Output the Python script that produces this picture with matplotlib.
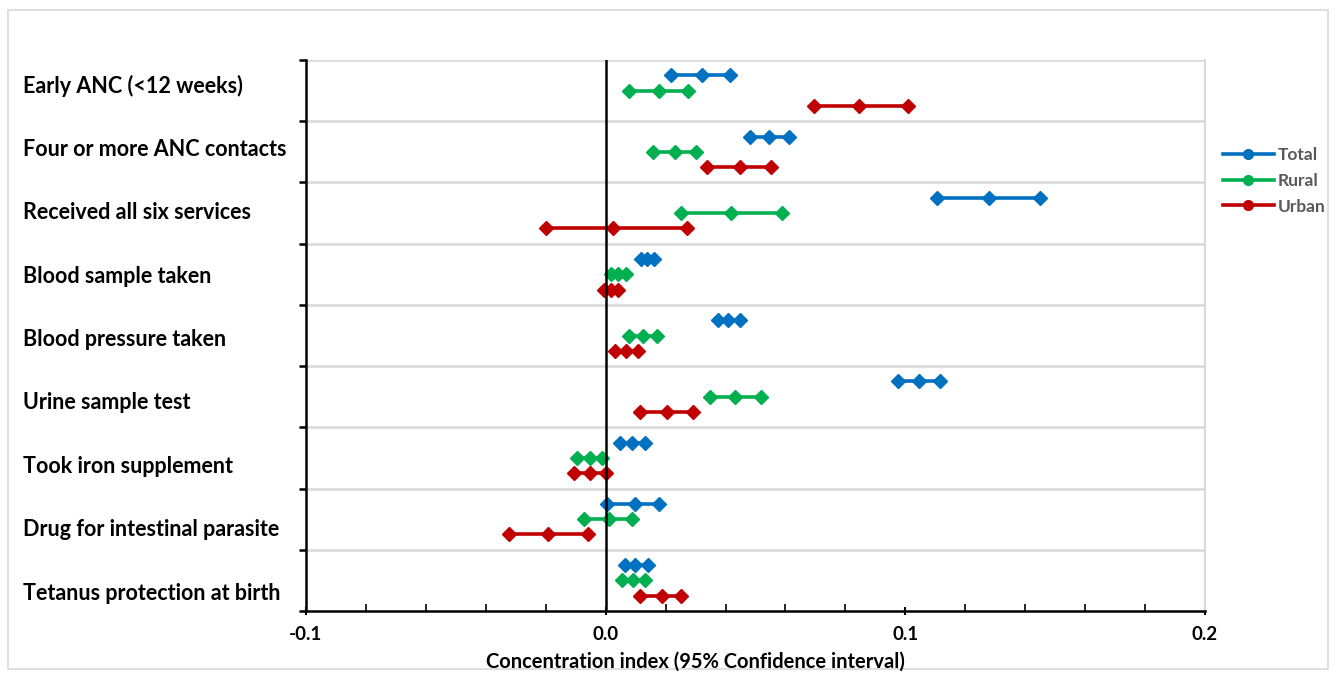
import matplotlib
matplotlib.use("Agg")
import matplotlib.pyplot as plt
from matplotlib.patches import Rectangle
from matplotlib.ticker import MultipleLocator, FixedLocator

categories = ["Early ANC (<12 weeks)", "Four or more ANC contacts", "Received all six services",
              "Blood sample taken", "Blood pressure taken", "Urine sample test",
              "Took iron supplement", "Drug for intestinal parasite", "Tetanus protection at birth"]

total_low = [0.0217, 0.0480, 0.1105, 0.0117, 0.0374, 0.0975, 0.0047, 0.0003, 0.0063]
total_ci = [0.0320, 0.0544, 0.1280, 0.0137, 0.0407, 0.1045, 0.0087, 0.0097, 0.0097]
total_high = [0.0414, 0.0611, 0.1450, 0.0160, 0.0447, 0.1115, 0.0130, 0.0177, 0.0140]

rural_low = [0.0077, 0.0157, 0.0250, 0.0017, 0.0077, 0.0347, -0.0097, -0.0073, 0.0053]
rural_ci = [0.0177, 0.0230, 0.0417, 0.0040, 0.0124, 0.0430, -0.0053, 0.0010, 0.0090]
rural_high = [0.0274, 0.0300, 0.0588, 0.0067, 0.0170, 0.0518, -0.0013, 0.0087, 0.0130]

urban_low = [0.0694, 0.0337, -0.0200, -0.0007, 0.0030, 0.0114, -0.0107, -0.0324, 0.0113]
urban_ci = [0.0845, 0.0447, 0.0023, 0.0017, 0.0067, 0.0204, -0.0053, -0.0194, 0.0187]
urban_high = [0.1008, 0.0551, 0.0270, 0.0040, 0.0107, 0.0290, 0.0000, -0.0060, 0.0250]

series = [("Total", total_low, total_ci, total_high, "#0070C0", 0.25),
          ("Rural", rural_low, rural_ci, rural_high, "#00B050", 0.50),
          ("Urban", urban_low, urban_ci, urban_high, "#C00000", 0.75)]

plt.rcParams['font.family'] = ['Lato', 'DejaVu Sans']

W, H = 1336, 677
fig = plt.figure(figsize=(W / 100, H / 100), dpi=100)
fig.patches.append(Rectangle((8 / W, 1 - 669 / H), 1320 / W, 659 / H, transform=fig.transFigure,
                             fill=False, edgecolor="#d9d9d9", linewidth=1.2))
ax = fig.add_axes([306 / W, 1 - 611 / H, (1205 - 306) / W, (611 - 60) / H])

n = len(categories)
for name, lo, ci, hi, color, off in series:
    for i in range(n):
        y = i + off
        ax.plot([lo[i], ci[i], hi[i]], [y, y, y], color=color, lw=2.6, marker="D",
                markersize=7, zorder=3, label=name if i == 0 else None)

ax.set_xlim(-0.1, 0.2)
ax.set_ylim(n, 0)
ax.axvline(0, color="black", lw=1.8, zorder=4)

for b in range(n):
    ax.axhline(b, color="#d9d9d9", lw=1.8, zorder=1)

ax.xaxis.set_major_locator(FixedLocator([-0.1, 0.0, 0.1, 0.2]))
ax.xaxis.set_minor_locator(MultipleLocator(0.02))
ax.set_xticklabels(["-0.1", "0.0", "0.1", "0.2"], fontsize=13.5, fontweight="bold")
ax.tick_params(axis="x", which="major", length=6, width=1.5, direction="inout", pad=8)
ax.tick_params(axis="x", which="minor", length=5, width=1.2, direction="in")
ax.set_yticks(list(range(n + 1)))
ax.set_yticklabels([])
ax.tick_params(axis="y", length=5, width=1.8, direction="out")

for s in ["left", "bottom"]:
    ax.spines[s].set_color("black")
    ax.spines[s].set_linewidth(1.8)
ax.spines["top"].set_visible(False)
ax.spines["right"].set_color("#d9d9d9")
ax.spines["right"].set_linewidth(1.5)

# category labels: text boxes spaced evenly from y=86px to y=593px
for i, c in enumerate(categories):
    ypx = 86 + i * (593 - 86) / (n - 1)
    fig.text(23 / W, 1 - ypx / H, c, ha="left", va="center",
             fontsize=15.5, fontweight="bold", color="black")

fig.text(695 / W, 1 - 662 / H, "Concentration index (95% Confidence interval)",
         ha="center", va="center", fontsize=14.5, fontweight="bold")

leg = ax.legend(loc="center left", bbox_to_anchor=(1211 / W, 1 - 181 / H),
                bbox_transform=fig.transFigure, frameon=False,
                handlelength=2.9, handletextpad=0.25, labelspacing=0.55, borderpad=0.2,
                prop={"weight": "bold", "size": 12.5})
for t in leg.get_texts():
    t.set_color("#595959")
for h in leg.legend_handles:
    h.set_marker("o")

fig.savefig("out.png", dpi=100)
